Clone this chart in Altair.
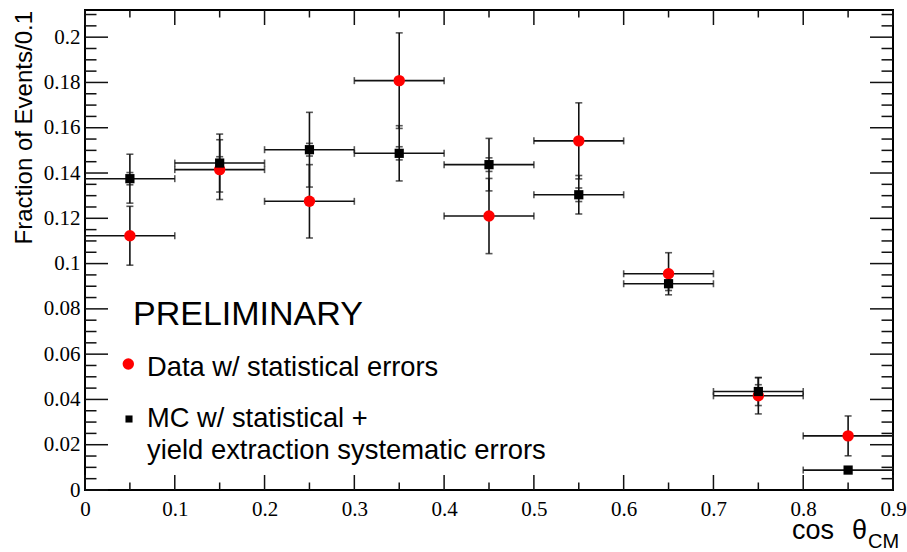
import altair as alt
import pandas as pd

# ---- data ----
x_centers = [0.05, 0.15, 0.25, 0.35, 0.45, 0.55, 0.65, 0.75, 0.85]
half_bin = 0.05
data_y = [0.1123, 0.1415, 0.1275, 0.1808, 0.1210, 0.1542, 0.0955, 0.0416, 0.0239]
data_err = [0.0130, 0.0132, 0.0162, 0.0211, 0.0166, 0.0168, 0.0093, 0.0080, 0.0088]
mc_y = [0.1375, 0.1444, 0.1503, 0.1487, 0.1437, 0.1304, 0.0911, 0.0435, 0.0088]
mc_err_total = [0.0108, 0.0128, 0.0165, 0.0122, 0.0116, 0.0085, 0.0030, 0.0062, 0.0010]
mc_err_stat = [0.0027, 0.0028, 0.0028, 0.0029, 0.0030, 0.0030, 0.0015, 0.0030, 0.0005]

x_major = [0, 0.1, 0.2, 0.3, 0.4, 0.5, 0.6, 0.7, 0.8, 0.9]
x_minor = [0.05, 0.15, 0.25, 0.35, 0.45, 0.55, 0.65, 0.75, 0.85]
y_major = [0, 0.02, 0.04, 0.06, 0.08, 0.1, 0.12, 0.14, 0.16, 0.18, 0.2]
y_minor = [0.005, 0.01, 0.015, 0.025, 0.03, 0.035, 0.045, 0.05, 0.055,
           0.065, 0.07, 0.075, 0.085, 0.09, 0.095, 0.105, 0.11, 0.115,
           0.125, 0.13, 0.135, 0.145, 0.15, 0.155, 0.165, 0.17, 0.175,
           0.185, 0.19, 0.195, 0.205, 0.21]

y_title = "Fraction of Events/0.1"
preliminary = "PRELIMINARY"
legend_data = "Data w/ statistical errors"
legend_mc_1 = "MC w/ statistical +"
legend_mc_2 = "yield extraction systematic errors"

W, H = 808, 480
RED = "#ff0000"
INK = "#111111"

xscale = alt.Scale(domain=[0, 0.9], nice=False, zero=False)
yscale = alt.Scale(domain=[0, 0.212], nice=False, zero=False)
xaxis = alt.Axis(values=x_major, format="~g", ticks=False, tickSize=0, domain=False,
                 grid=False, labelFont="Liberation Serif", labelFontSize=21,
                 labelColor="black", labelPadding=8, title=None, labelFlush=False)
yaxis = alt.Axis(values=y_major, format="~g", ticks=False, tickSize=0, domain=False,
                 grid=False, labelFont="Liberation Serif", labelFontSize=21,
                 labelColor="black", labelPadding=5, title=None, labelFlush=False)


def X(f):
    return alt.X(f, type="quantitative", scale=xscale, axis=xaxis)


def Y(f):
    return alt.Y(f, type="quantitative", scale=yscale, axis=yaxis)


def frame(ys, errs):
    return pd.DataFrame({
        "x": x_centers,
        "y": ys,
        "lo": [a - b for a, b in zip(ys, errs)],
        "hi": [a + b for a, b in zip(ys, errs)],
        "xlo": [c - half_bin for c in x_centers],
        "xhi": [c + half_bin for c in x_centers],
    })


def error_layers(df):
    caps_v = pd.DataFrame({"x": list(df["x"]) * 2, "y": list(df["lo"]) + list(df["hi"])})
    caps_h = pd.DataFrame({"x": list(df["xlo"]) + list(df["xhi"]), "y": list(df["y"]) * 2})
    base = alt.Chart(df)
    return [
        base.mark_rule(color=INK, strokeWidth=1.6).encode(x=X("x"), y=Y("lo"), y2="hi"),
        base.mark_rule(color=INK, strokeWidth=1.6).encode(x=X("xlo"), x2="xhi", y=Y("y")),
        alt.Chart(caps_v).mark_tick(color=INK, orient="horizontal", size=7, thickness=1.6)
        .encode(x=X("x"), y=Y("y")),
        alt.Chart(caps_h).mark_tick(color=INK, orient="vertical", size=7, thickness=1.6)
        .encode(x=X("x"), y=Y("y")),
    ]


df_data = frame(data_y, data_err)
df_mc_tot = frame(mc_y, mc_err_total)
df_mc_stat = frame(mc_y, mc_err_stat)

layers = []
layers += error_layers(df_data)
layers += error_layers(df_mc_tot)
# stat caps for MC
stat_caps = pd.DataFrame({"x": x_centers * 2,
                          "y": list(df_mc_stat["lo"]) + list(df_mc_stat["hi"])})
layers.append(alt.Chart(stat_caps).mark_tick(color=INK, orient="horizontal", size=7, thickness=1.6)
              .encode(x=X("x"), y=Y("y")))

layers.append(alt.Chart(df_data).mark_point(shape="circle", filled=True, color=RED, size=130, opacity=1)
              .encode(x=X("x"), y=Y("y")))
layers.append(alt.Chart(df_mc_tot).mark_point(shape="square", filled=True, color="black", size=85, opacity=1)
              .encode(x=X("x"), y=Y("y")))

# ---- ticks (ROOT style, inward, on all four sides) ----
tk = dict(color=INK, strokeWidth=1.5)
dxM = pd.DataFrame({"v": x_major})
dxm = pd.DataFrame({"v": x_minor})
dyM = pd.DataFrame({"v": y_major})
dym = pd.DataFrame({"v": y_minor})
layers += [
    alt.Chart(dxM).mark_rule(**tk).encode(x=X("v"), y=alt.value(H), y2=alt.value(H - 15)),
    alt.Chart(dxm).mark_rule(**tk).encode(x=X("v"), y=alt.value(H), y2=alt.value(H - 7.5)),
    alt.Chart(dxM).mark_rule(**tk).encode(x=X("v"), y=alt.value(0), y2=alt.value(15)),
    alt.Chart(dxm).mark_rule(**tk).encode(x=X("v"), y=alt.value(0), y2=alt.value(7.5)),
    alt.Chart(dyM).mark_rule(**tk).encode(y=Y("v"), x=alt.value(0), x2=alt.value(23)),
    alt.Chart(dym).mark_rule(**tk).encode(y=Y("v"), x=alt.value(0), x2=alt.value(11.5)),
    alt.Chart(dyM).mark_rule(**tk).encode(y=Y("v"), x=alt.value(W), x2=alt.value(W - 23)),
    alt.Chart(dym).mark_rule(**tk).encode(y=Y("v"), x=alt.value(W), x2=alt.value(W - 11.5)),
]

# ---- titles and legend text ----
one = pd.DataFrame({"a": [0]})


def label(txt, x, y, size, **kw):
    return alt.Chart(one).mark_text(text=txt, font="Liberation Sans", fontSize=size,
                                    color="black", baseline="alphabetic", **kw
                                    ).encode(x=alt.value(x), y=alt.value(y))


layers += [
    label(y_title, -53, 1, 24, align="right", angle=270),
    label("cos", 707, 529, 27, align="left"),
    label("θ", 767, 529, 27, align="left"),
    label("CM", 783, 538, 20, align="left"),
    label(preliminary, 48, 315, 34, align="left"),
    label(legend_data, 62, 365.7, 27.3, align="left"),
    label(legend_mc_1, 62, 417.3, 27.3, align="left"),
    label(legend_mc_2, 62, 449, 27.4, align="left"),
    alt.Chart(one).mark_point(shape="circle", filled=True, color=RED, size=130, opacity=1)
    .encode(x=alt.value(43.3), y=alt.value(354)),
    alt.Chart(one).mark_point(shape="square", filled=True, color="black", size=50, opacity=1)
    .encode(x=alt.value(44), y=alt.value(409)),
]

chart = alt.layer(*layers).properties(
    width=W, height=H,
    autosize=alt.AutoSizeParams(type="none"),
    padding={"left": 85, "top": 10, "right": 14, "bottom": 62},
).configure_view(stroke="black", strokeWidth=2)

chart.save("out.html", embed_options={"renderer": "svg", "actions": False})
